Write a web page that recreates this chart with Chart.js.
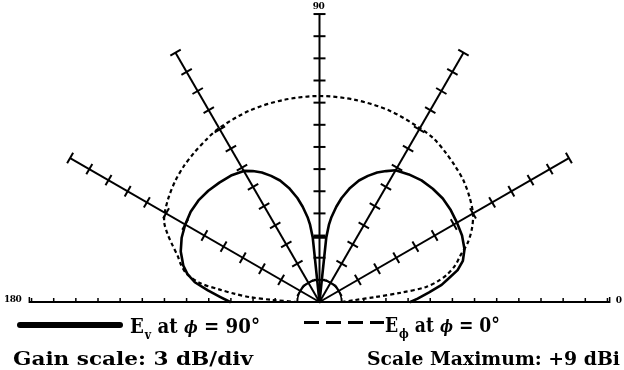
<!DOCTYPE html>
<html>
<head>
<meta charset="utf-8">
<script src="https://cdn.jsdelivr.net/npm/chart.js@4/dist/chart.umd.min.js"></script>
<style>
  html, body { margin: 0; padding: 0; background: #fff; }
  #wrap { position: relative; width: 624px; height: 370px; overflow: hidden; background: #fff; }
  #plot { position: absolute; left: 0; top: 0; }
  .t { position: absolute; left: 0; top: 0; font-family: "DejaVu Serif", "Liberation Serif", serif;
       font-weight: bold; color: #000; white-space: nowrap; line-height: 1; transform-origin: 0 0; }
  .t i.m { font-style: italic; font-size: 16px; }
  .bl { display: inline-block; width: 0; height: 0; vertical-align: baseline; }
  .sub { font-size: 12px; position: relative; top: 6px; margin-left: 1px; }
  .big { font-size: 20px; }
  .cap { font-size: 19px; }
  .ang { font-size: 9px; letter-spacing: -0.5px; }
  #solidKey { position: absolute; left: 17px; top: 322px; width: 106px; height: 6px; background: #000; border-radius: 3px; }
  #dashKey { position: absolute; left: 304px; top: 321px; width: 80px; height: 3px;
             background: repeating-linear-gradient(90deg, #000 0 15px, transparent 15px 22px); }
</style>
</head>
<body>
<div id="wrap">
  <canvas id="plot" width="624" height="370"></canvas>
  <div id="solidKey"></div>
  <div id="dashKey"></div>
  <div class="t big" data-x="130" data-base="333" data-w="130">E<span class="sub">v</span> at <i class="m">ϕ</i> = 90°<span class="bl"></span></div>
  <div class="t big" data-x="385" data-base="332" data-w="115">E<span class="sub">ϕ</span> at <i class="m">ϕ</i> = 0°<span class="bl"></span></div>
  <div class="t cap" data-x="13" data-base="365" data-w="240">Gain scale: 3 dB/div<span class="bl"></span></div>
  <div class="t cap" data-x="367" data-base="365" data-w="253">Scale Maximum: +9 dBi<span class="bl"></span></div>
  <div class="t ang" id="lab0"></div>
  <div class="t ang" id="lab90"></div>
  <div class="t ang" id="lab180"></div>
</div>
<script>
// Gain scale of the plot: outer edge = +9 dBi, 3 dB per division, 13 divisions.
const SCALE_MAX_DBI = 9;
const DB_PER_DIV = 3;
const N_DIV = 13;
const GAIN_FLOOR = SCALE_MAX_DBI - N_DIV * DB_PER_DIV;

// Elevation spokes and labelled directions (degrees).
const SPOKE_ANGLES = [30, 60, 90, 120, 150];
const LABEL_ANGLES = [0, 90, 180];
const LABEL_TEXTS = ['0', '90', '180'];

// E_v at phi = 90 deg: two lobes with a deep null at zenith.
const EV_THETA = [0, 2, 5, 8, 10, 13, 16, 20, 25, 30, 35, 40, 45, 50, 55, 60, 63, 66, 69, 72, 75, 78, 80, 82, 83, 84,
                  90, 96, 84, 96,
                  97, 98, 100, 102, 105, 108, 111, 114, 117, 120, 125, 130, 135, 140, 145, 150, 155, 160, 165, 168, 171, 174, 177, 180];
const EV_GAIN = [-17.7, -16.7, -15.1, -13.3, -12.4, -10.8, -9.8, -9.1, -8.7, -8.5, -8.3, -8.2, -8.3, -8.5, -8.9, -9.4, -10.1, -10.8, -11.7, -12.7, -14.0, -15.6, -16.9, -18.4, -19.4, -21.2,
                 -30.0, -21.2, -21.2, -21.2,
                 -19.4, -18.4, -16.9, -15.6, -14.0, -12.7, -11.7, -10.8, -10.1, -9.5, -9.1, -8.9, -8.7, -8.6, -8.7, -9.0, -9.4, -10.0, -10.9, -11.7, -12.9, -14.8, -16.5, -17.9];

// E_phi at phi = 0 deg: broad pattern falling off toward the horizon.
const EPHI_THETA = [0, 3, 5, 6.5, 8, 10, 12, 15, 18, 22, 26, 30, 35, 40, 45, 50, 55, 60, 70, 80, 90,
                    100, 110, 120, 125, 130, 135, 140, 145, 150, 153, 156, 159, 162, 165, 168, 171, 173, 174.5, 176, 177.5, 180];
const EPHI_GAIN = [-27.0, -25.3, -22.5, -18.9, -15.4, -13.7, -12.4, -11.0, -10.0, -8.3, -7.0, -6.0, -5.2, -4.5, -4.0, -3.5, -3.0, -2.8, -2.4, -2.2, -2.1,
                   -2.2, -2.4, -2.8, -3.2, -3.6, -4.0, -4.5, -5.1, -5.8, -6.4, -7.5, -8.7, -9.8, -10.6, -11.6, -13.6, -16.5, -18.5, -20.5, -23.6, -27.0];

// Polar (elevation, gain) -> cartesian in division units.
function toXY(deg, dbi) {
  const r = Math.max(0, (dbi - GAIN_FLOOR) / DB_PER_DIV);
  const a = deg * Math.PI / 180;
  return { x: r * Math.cos(a), y: r * Math.sin(a) };
}
const pts = (th, g) => th.map((d, i) => toXY(d, g[i]));

// Pole position and division size on the canvas.
const CX = 319.5, CY = 302, DIV = 22.15, W = 624, H = 370;

const polarFrame = {
  id: 'polarFrame',
  beforeDatasetsDraw(chart) {
    const { ctx, scales: { x, y } } = chart;
    const cx = x.getPixelForValue(0), cy = y.getPixelForValue(0);
    const div = x.getPixelForValue(1) - cx;
    ctx.save();
    ctx.strokeStyle = '#000';
    ctx.lineCap = 'butt';
    // horizon line with division marks
    const ext = N_DIV + 0.1;
    ctx.lineWidth = 2;
    ctx.beginPath(); ctx.moveTo(cx - ext * div, cy); ctx.lineTo(cx + ext * div, cy); ctx.stroke();
    ctx.lineWidth = 1.5;
    for (let k = 1; k <= N_DIV; k++) {
      for (const s of [-1, 1]) {
        ctx.beginPath(); ctx.moveTo(cx + s * k * div, cy); ctx.lineTo(cx + s * k * div, cy - 4); ctx.stroke();
      }
    }
    for (const s of [-1, 1]) {
      ctx.beginPath(); ctx.moveTo(cx + s * ext * div, cy + 1); ctx.lineTo(cx + s * ext * div, cy - 5); ctx.stroke();
    }
    // innermost gain ring
    ctx.lineWidth = 1.6;
    ctx.beginPath(); ctx.arc(cx, cy, div, Math.PI, 2 * Math.PI); ctx.stroke();
    // elevation spokes with cross marks at every division
    for (const deg of SPOKE_ANGLES) {
      const a = deg * Math.PI / 180, ux = Math.cos(a), uy = -Math.sin(a);
      const px = -uy, py = ux;
      ctx.lineWidth = 2;
      ctx.beginPath(); ctx.moveTo(cx, cy); ctx.lineTo(cx + ux * N_DIV * div, cy + uy * N_DIV * div); ctx.stroke();
      for (let k = 1; k <= N_DIV; k++) {
        const bx = cx + ux * k * div, by = cy + uy * k * div;
        ctx.beginPath(); ctx.moveTo(bx - px * 6, by - py * 6); ctx.lineTo(bx + px * 6, by + py * 6); ctx.stroke();
      }
    }
    ctx.restore();
  },
  afterDraw(chart) {
    const { scales: { x, y } } = chart;
    const cx = x.getPixelForValue(0), cy = y.getPixelForValue(0);
    const div = x.getPixelForValue(1) - cx;
    LABEL_ANGLES.forEach((deg, i) => {
      const el = document.getElementById('lab' + deg);
      el.innerHTML = LABEL_TEXTS[i] + '<span class="bl"></span>';
      const off = el.querySelector('.bl').offsetTop;
      const w = el.getBoundingClientRect().width;
      let left, base;
      if (deg === 90) { left = cx - w / 2 - 1; base = cy - N_DIV * div - 5; }
      else if (deg === 180) { left = cx - (N_DIV + 0.1) * div - 8 - w; base = cy; }
      else { left = cx + (N_DIV + 0.1) * div + 6; base = cy + 1; }
      el.style.left = left + 'px';
      el.style.top = (base - off) + 'px';
    });
  }
};

new Chart(document.getElementById('plot'), {
  type: 'scatter',
  data: {
    datasets: [
      {
        label: 'E_v at phi = 90',
        data: pts(EV_THETA, EV_GAIN),
        showLine: true, tension: 0,
        borderColor: '#000', borderWidth: 2.6, borderJoinStyle: 'round', borderCapStyle: 'round',
        pointRadius: 0, fill: false
      },
      {
        label: 'E_phi at phi = 0',
        data: pts(EPHI_THETA, EPHI_GAIN),
        showLine: true, tension: 0.3,
        borderColor: '#000', borderWidth: 2.2, borderDash: [4, 3],
        pointRadius: 0, fill: false
      }
    ]
  },
  options: {
    responsive: false,
    animation: false,
    devicePixelRatio: 1,
    layout: { padding: 0 },
    plugins: { legend: { display: false }, tooltip: { enabled: false }, title: { display: false } },
    scales: {
      x: { type: 'linear', display: false, bounds: 'data', min: -CX / DIV, max: (W - CX) / DIV },
      y: { type: 'linear', display: false, bounds: 'data', min: -(H - CY) / DIV, max: CY / DIV }
    }
  },
  plugins: [polarFrame]
});

// Place caption texts by their baseline and fit them to their widths.
document.querySelectorAll('.t[data-x]').forEach(el => {
  const off = el.querySelector('.bl').offsetTop;
  el.style.left = el.dataset.x + 'px';
  el.style.top = (+el.dataset.base - off) + 'px';
  const natural = el.getBoundingClientRect().width;
  el.style.transform = 'scaleX(' + (+el.dataset.w / natural) + ')';
});
</script>
</body>
</html>
